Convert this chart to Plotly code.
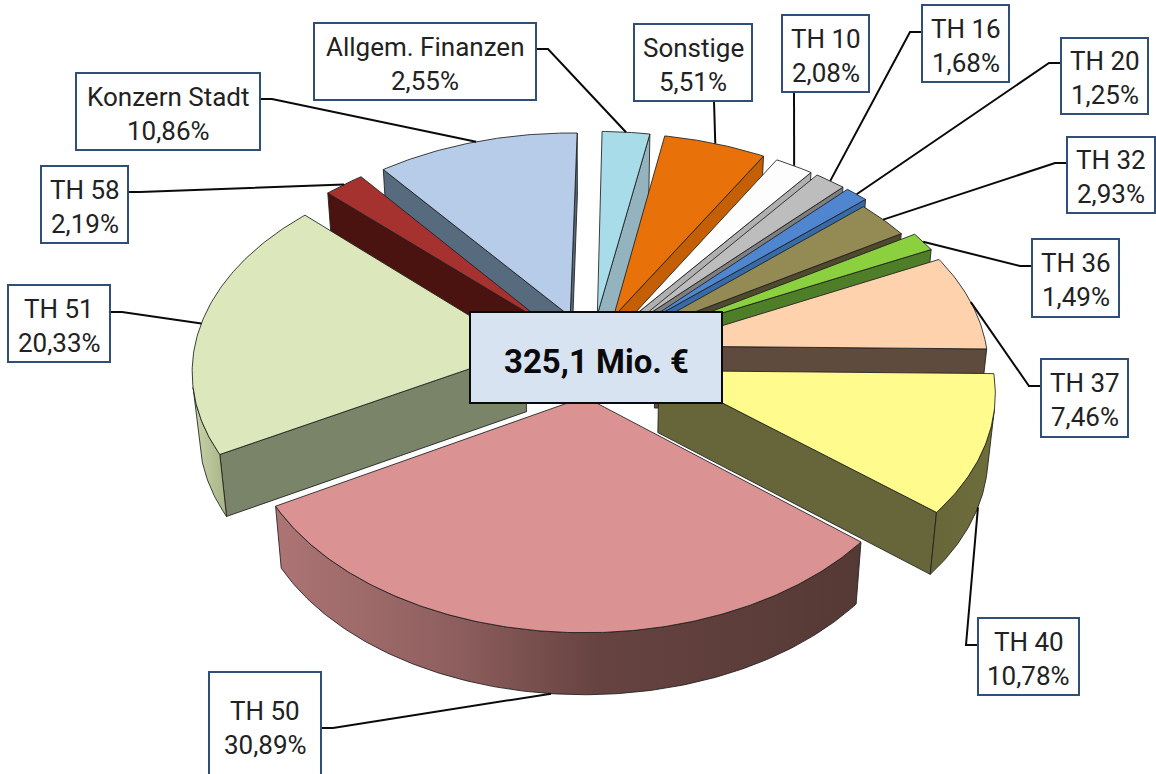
import math
import plotly.graph_objects as go

# ---------- data ----------
labels = ["Allgem. Finanzen", "Sonstige", "TH 10", "TH 16", "TH 20", "TH 32", "TH 36",
          "TH 37", "TH 40", "TH 50", "TH 51", "TH 58", "Konzern Stadt"]
shares = [2.55, 5.51, 2.08, 1.68, 1.25, 2.93, 1.49, 7.46, 10.78, 30.89, 20.33, 2.19, 10.86]
share_text = ["2,55%", "5,51%", "2,08%", "1,68%", "1,25%", "2,93%", "1,49%",
              "7,46%", "10,78%", "30,89%", "20,33%", "2,19%", "10,86%"]
center_text = "325,1 Mio. €"

# ---------- styles ----------
top_colors = ["#A9DCE9", "#E8710A", "#FDFDFD", "#BDBDBD", "#4F86CF", "#948A54", "#8BD03E",
              "#FFD2AE", "#FFFB8C", "#DB9292", "#DCE7BC", "#A6322F", "#B6CCE8"]
wall_colors = ["#93B3BE", "#C55F06", "#B0B0B0", "#7F7F7F", "#376BA8", "#4F4A2E", "#4E7F28",
               "#5F4A3E", "#66663A", "#553935", "#7A8468", "#4A130F", "#566B7E"]
arc_gradients = {
    "TH 50": [(0, "#AD7474"), (0.3, "#8F5F5F"), (0.55, "#664340"), (1, "#553935")],
    "TH 51": [(0, "#C9D4AA"), (1, "#A8B388")],
    "TH 40": [(0, "#66663A"), (1, "#6E6E3C")],
    "TH 37": [(0, "#5F4A3E"), (1, "#5F4A3E")],
}
draw_order = ["Konzern Stadt", "TH 58", "TH 51", "Allgem. Finanzen", "Sonstige", "TH 10", "TH 16",
              "TH 20", "TH 32", "TH 36", "TH 37", "TH 40", "TH 50"]
# label boxes: x0, y0, x1, y1, leader start (y on the box side, or x on the box bottom), stub side
boxes = {
    "Allgem. Finanzen": (314, 23, 536, 100, 49, 1),
    "Sonstige": (634, 24, 752, 101, 714, 0),
    "TH 10": (782, 15, 869, 92, 794, 0),
    "TH 16": (922, 5, 1009, 82, 32, -1),
    "TH 20": (1061, 38, 1148, 114, 63, -1),
    "TH 32": (1067, 137, 1155, 213, 163, -1),
    "TH 36": (1032, 239, 1119, 317, 266, -1),
    "TH 37": (1041, 359, 1128, 437, 386, -1),
    "TH 40": (978, 618, 1079, 695, 645, -1),
    "TH 50": (209, 672, 321, 790, 728, 1),
    "TH 51": (8, 285, 110, 362, 312, 1),
    "TH 58": (41, 166, 128, 243, 192, 1),
    "Konzern Stadt": (76, 73, 260, 150, 99, 1),
}
LEADER_FROM_WALL = {"TH 50", "TH 40"}

# ---------- projection of the tilted pie onto the canvas ----------
CX, CY, A, B, P = 591, 355, 332, 206.6, 0.09
EXPLODE, ROT, DEPTH, SHRINK = 0.2, 1.0, 62, 0.018
EXPLODE_BY_SLICE = {"TH 40": 0.217, "TH 32": 0.166}


def project(u, v, low=False):
    w = 1 + P * v
    x, y = CX + A * u / w, CY - B * v / w
    if low:
        x = CX + (x - CX) * (1 - SHRINK)
        y = y + DEPTH
    return x, y


total = sum(shares)
spans, acc = {}, 0.0
for name, s in zip(labels, shares):
    a0 = acc / total * 360 + ROT
    acc += s
    spans[name] = (a0, acc / total * 360 + ROT)


def plane(name, ang, r=1.0):
    a0, a1 = spans[name]
    m = math.radians((a0 + a1) / 2)
    t = math.radians(ang)
    e = EXPLODE_BY_SLICE.get(name, EXPLODE)
    return e * math.sin(m) + r * math.sin(t), e * math.cos(m) + r * math.cos(t)


def poly(fig, pts, fill, line="rgba(30,30,30,0.85)", grad=None, width=1):
    xs = [p[0] for p in pts] + [pts[0][0]]
    ys = [p[1] for p in pts] + [pts[0][1]]
    kw = {}
    if grad:
        kw["fillgradient"] = dict(type="horizontal", colorscale=grad,
                                  start=min(xs), stop=max(xs))
    else:
        kw["fillcolor"] = fill
    fig.add_trace(go.Scatter(x=xs, y=ys, mode="lines", fill="toself",
                             line=dict(color=line, width=width),
                             hoverinfo="skip", showlegend=False, **kw))


def area(pts):
    s = 0
    for i in range(len(pts)):
        a, b = pts[i], pts[(i + 1) % len(pts)]
        s += a[0] * b[1] - b[0] * a[1]
    return s / 2


fig = go.Figure()

for name in draw_order:
    i = labels.index(name)
    a0, a1 = spans[name]
    n = max(6, int((a1 - a0) * 1.5))
    angs = [a0 + (a1 - a0) * k / n for k in range(n + 1)]
    top_arc = [project(*plane(name, a)) for a in angs]
    low_arc = [project(*plane(name, a), low=True) for a in angs]
    apex = project(*plane(name, 0, 0))
    apex_low = project(*plane(name, 0, 0), low=True)

    # radial walls, only those facing the viewer
    for q in ([apex, top_arc[0], low_arc[0], apex_low], [top_arc[-1], apex, apex_low, low_arc[-1]]):
        if area(q) < 0:
            poly(fig, q, wall_colors[i])
    # outer wall, only the part facing the viewer
    run = []
    runs = []
    for k in range(n):
        q = [top_arc[k], top_arc[k + 1], low_arc[k + 1], low_arc[k]]
        if area(q) < 0:
            run.append(k)
        elif run:
            runs.append(run)
            run = []
    if run:
        runs.append(run)
    for r in runs:
        idx = r + [r[-1] + 1]
        q = [top_arc[k] for k in idx] + [low_arc[k] for k in reversed(idx)]
        poly(fig, q, wall_colors[i], grad=arc_gradients.get(name))
    # top face
    poly(fig, [apex] + top_arc, top_colors[i])

# leader lines: from each box to the middle of its slice's rim
for name in labels:
    a0, a1 = spans[name]
    end = project(*plane(name, (a0 + a1) / 2), low=name in LEADER_FROM_WALL)
    x0, y0, x1, y1, start, side = boxes[name]
    if side == 0:
        xs, ys = [start, end[0]], [y1, end[1]]
    else:
        bx = x1 if side > 0 else x0
        xs, ys = [bx, bx + side * 12, end[0]], [start, start, end[1]]
    fig.add_trace(go.Scatter(x=xs, y=ys, mode="lines", line=dict(color="#0A0A0A", width=2),
                             hoverinfo="skip", showlegend=False))

shapes = []
annotations = []
for name, pct in zip(labels, share_text):
    x0, y0, x1, y1, _, _ = boxes[name]
    shapes.append(dict(type="rect", x0=x0, y0=y0, x1=x1, y1=y1, xref="x", yref="y", layer="above",
                       fillcolor="white", line=dict(color="#2F4F7A", width=2)))
    yc = (y0 + min(y1, y0 + 77)) / 2
    if name == "TH 50":
        yc = 726
    mx = (x0 + x1) / 2
    for txt, yy in ((name, yc - 15), (pct, yc + 19)):
        annotations.append(dict(x=mx, y=yy, text=txt, showarrow=False, xref="x", yref="y",
                                font=dict(family="Roboto", size=26, color="#222222")))

shapes.append(dict(type="rect", x0=470, y0=312, x1=722, y1=403, xref="x", yref="y", layer="above",
                   fillcolor="#D8E3F1", line=dict(color="#0A0A0A", width=2)))
annotations.append(dict(x=596, y=361, text="<b>" + center_text + "</b>", showarrow=False,
                        xref="x", yref="y", font=dict(family="Roboto", size=33, color="#0A0A0A")))

fig.update_layout(
    width=1156, height=774, margin=dict(l=0, r=0, t=0, b=0),
    paper_bgcolor="white", plot_bgcolor="white", shapes=shapes, annotations=annotations,
    xaxis=dict(range=[0, 1156], visible=False, fixedrange=True),
    yaxis=dict(range=[774, 0], visible=False, fixedrange=True),
)
# remove the page's default body margin so the plot fills the whole window
fig.write_html("out.html", config={"displayModeBar": False},
               post_script="document.body.style.margin='0';"
                           "document.documentElement.style.overflow='hidden';")
